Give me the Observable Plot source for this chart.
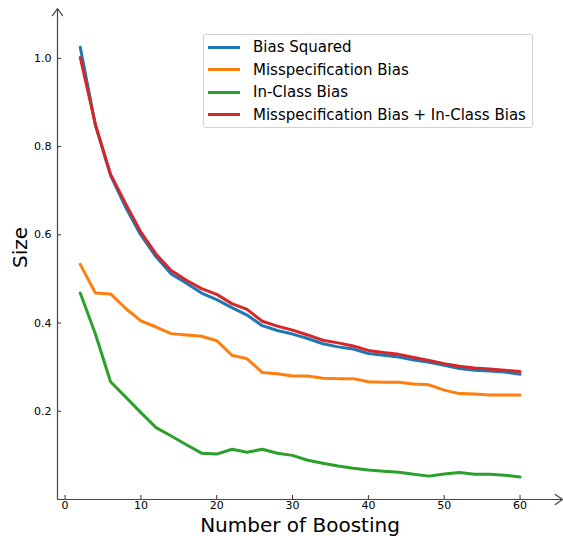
<!DOCTYPE html>
<html>
<head>
<meta charset="utf-8">
<script src="https://cdn.jsdelivr.net/npm/d3@7"></script>
<script src="https://cdn.jsdelivr.net/npm/@observablehq/plot@0.6"></script>
<style>
  html, body { margin: 0; padding: 0; background: #fff; }
  #wrap { position: relative; width: 563px; height: 536px; font-family: "DejaVu Sans", sans-serif; }
  #legend { position: absolute; left: 203px; top: 34px; width: 328px; height: 92px; border: 1px solid #d0d0d0; border-radius: 3px; background: rgba(255,255,255,0.85); box-sizing: content-box; }
  .row { position: absolute; left: 0; height: 20px; display: flex; align-items: center; font-size: 15px; color: #000; white-space: nowrap; }
  .sw { width: 32px; height: 3px; margin-left: 4px; margin-right: 13px; }
</style>
</head>
<body>
<div id="wrap"></div>
<script>
const boosting = [2,4,6,8,10,12,14,16,18,20,22,24,26,28,30,32,34,36,38,40,42,44,46,48,50,52,54,56,58,60];
const biasSquared = [1.025,0.848,0.735,0.662,0.599,0.550,0.511,0.490,0.468,0.453,0.435,0.418,0.394,0.383,0.375,0.365,0.353,0.346,0.341,0.331,0.327,0.323,0.316,0.311,0.304,0.297,0.293,0.291,0.289,0.284];
const misspecBias = [0.533,0.468,0.466,0.433,0.405,0.391,0.376,0.373,0.370,0.360,0.327,0.319,0.288,0.285,0.280,0.280,0.275,0.274,0.274,0.267,0.266,0.266,0.262,0.260,0.248,0.240,0.239,0.237,0.237,0.237];
const inClassBias = [0.468,0.375,0.267,0.232,0.197,0.163,0.144,0.124,0.105,0.103,0.114,0.107,0.114,0.105,0.100,0.089,0.082,0.076,0.071,0.067,0.064,0.062,0.057,0.053,0.058,0.061,0.057,0.057,0.055,0.051];
const sumBias = [1.002,0.850,0.737,0.670,0.606,0.556,0.519,0.497,0.478,0.465,0.444,0.431,0.404,0.393,0.384,0.373,0.361,0.355,0.348,0.338,0.333,0.329,0.322,0.315,0.308,0.302,0.298,0.296,0.293,0.290];

const seriesNames = ["Bias Squared","Misspecification Bias","In-Class Bias","Misspecification Bias + In-Class Bias"];
const seriesColors = ["#1f77b4","#ff7f0e","#2ca02c","#d62728"];
const seriesValues = [biasSquared, misspecBias, inClassBias, sumBias];

const xTicks = [0,10,20,30,40,50,60];
const yTicks = [0.2,0.4,0.6,0.8,1.0];
const xDomain = [-1, 65.6];
const yDomain = [0, 1.113];

const rows = [];
seriesNames.forEach((name, i) => {
  boosting.forEach((b, j) => rows.push({series: name, x: b, y: seriesValues[i][j]}));
});

const axesArrows = [
  {x1: xDomain[0], y1: yDomain[0], x2: xDomain[1], y2: yDomain[0]},
  {x1: xDomain[0], y1: yDomain[0], x2: xDomain[0], y2: yDomain[1]}
];

const chart = Plot.plot({
  width: 563,
  height: 536,
  marginLeft: 57,
  marginRight: 1,
  marginTop: 8,
  marginBottom: 37,
  style: {fontFamily: "DejaVu Sans, sans-serif", fontSize: "11px", background: "#fff", overflow: "visible"},
  x: {domain: xDomain},
  y: {domain: yDomain},
  color: {domain: seriesNames, range: seriesColors},
  marks: [
    Plot.axisX({ticks: xTicks, tickSize: -4, tickPadding: 6, label: null, stroke: "#333", color: "#000", tickFormat: d3.format("d")}),
    Plot.axisY({ticks: yTicks, tickSize: -4, tickPadding: 10, label: null, stroke: "#333", color: "#000", tickFormat: d3.format(".1f")}),
    Plot.line(rows, {x: "x", y: "y", z: "series", stroke: "series", strokeWidth: 3, strokeLinejoin: "round"}),
    Plot.arrow(axesArrows, {x1: "x1", y1: "y1", x2: "x2", y2: "y2", stroke: "#444", strokeWidth: 1.2, headLength: 11, headAngle: 70, insetEnd: 0}),
    Plot.text(["Number of Boosting"], {frameAnchor: "bottom", dy: 26, dx: -10, fontSize: 20, lineAnchor: "middle", fill: "#000"}),
    Plot.text(["Size"], {frameAnchor: "left", dx: -37, dy: 14, rotate: -90, fontSize: 20, lineAnchor: "middle", fill: "#000"})
  ]
});

const wrap = document.getElementById("wrap");
wrap.appendChild(chart);

const legend = document.createElement("div");
legend.id = "legend";
seriesNames.forEach((name, i) => {
  const row = document.createElement("div");
  row.className = "row";
  row.style.top = (2 + i * 22.6) + "px";
  const sw = document.createElement("div");
  sw.className = "sw";
  sw.style.background = seriesColors[i];
  const t = document.createElement("span");
  t.textContent = name;
  row.appendChild(sw);
  row.appendChild(t);
  legend.appendChild(row);
});
wrap.appendChild(legend);
</script>
</body>
</html>
